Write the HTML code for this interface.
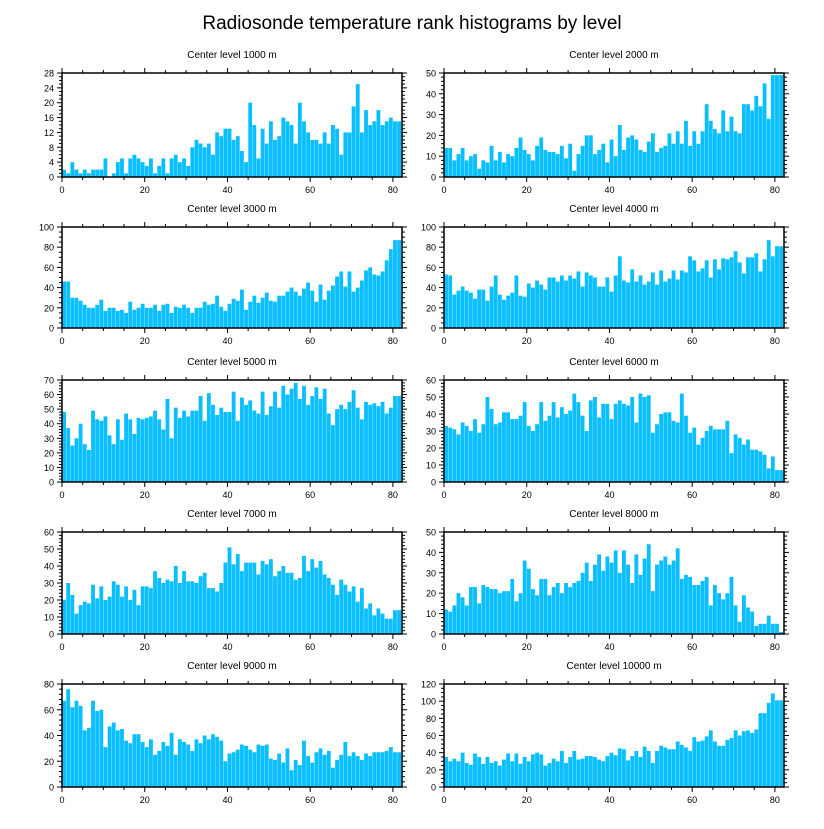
<!DOCTYPE html>
<html><head><meta charset="utf-8"><style>
body{margin:0;background:#fff}
svg text{font-family:"Liberation Sans",sans-serif;fill:#000}
</style></head><body>
<svg id="c" width="824" height="824" viewBox="0 0 824 824">
<text x="412" y="29" text-anchor="middle" font-size="19">Radiosonde temperature rank histograms by level</text>
</svg>
<script>
const levels=["1000","2000","3000","4000","5000","6000","7000","8000","9000","10000"];
const yMaxes=[28,50,100,100,70,60,60,50,80,120];
const yMajor=[4,10,20,20,10,10,10,10,20,20];
const yMinor=[1,2,5,5,2,2,2,2,4,5];
const xTicks=[0,20,40,60,80];
const v1000=[2,1,4,2,1,2,1,2,2,2,5,0,1,4,5,1,5,6,5,4,3,5,1,3,5,1,5,6,4,5,3,8,10,9,8,9,6,12,11,13,13,10,11,7,4,20,14,5,13,9,15,10,11,16,15,14,9,20,15,12,10,10,9,12,9,14,13,6,12,12,19,25,12,18,14,15,18,14,15,16,15,15];
const v2000=[14,14,8,11,14,8,10,11,4,8,7,15,8,12,7,11,10,14,19,13,11,8,15,19,13,12,12,11,15,9,16,3,11,15,20,20,11,13,16,7,18,10,25,13,19,20,18,13,12,17,21,12,14,15,21,16,22,16,27,15,22,16,22,35,27,23,21,32,22,29,22,21,35,35,32,39,34,45,28,49,49,49];
const v3000=[46,46,30,30,27,23,20,20,23,28,17,20,20,17,18,15,26,18,20,24,20,20,23,17,23,24,15,21,20,23,20,15,20,20,26,23,24,32,21,17,24,29,27,38,18,26,32,25,30,35,27,26,32,32,36,40,36,32,39,45,37,26,43,28,37,42,51,56,41,56,36,40,47,57,60,53,52,56,67,78,87,87];
const v4000=[53,52,33,37,41,37,35,29,38,38,27,41,52,33,28,32,35,52,32,31,44,40,47,43,38,50,50,46,52,47,52,49,56,41,55,52,50,41,41,50,36,52,71,47,45,58,46,52,43,46,55,43,57,46,49,57,48,57,55,71,67,56,59,67,50,68,58,69,68,70,76,65,54,70,70,74,56,68,87,71,81,81];
const v5000=[48,37,25,30,40,26,22,49,43,42,45,32,26,43,29,47,43,33,44,43,44,45,49,43,36,57,30,51,44,49,45,49,49,59,42,61,53,46,51,48,48,62,42,58,53,56,49,47,62,46,52,62,51,66,60,64,68,57,66,53,59,65,57,64,47,39,50,53,50,55,63,51,43,55,53,54,52,55,47,51,59,59];
const v6000=[33,32,31,28,35,33,30,37,29,34,50,43,34,35,41,41,37,37,39,47,33,30,34,47,36,39,47,38,44,40,42,52,47,39,30,48,50,38,46,46,37,46,48,46,45,50,35,52,50,51,29,34,40,41,41,36,35,52,39,29,32,22,26,30,33,31,31,31,36,17,28,26,22,25,19,19,18,16,8,15,7,7];
const v7000=[20,30,23,12,17,19,18,29,21,28,20,22,31,29,22,28,20,26,17,28,28,27,37,33,30,32,31,40,30,37,31,31,30,34,36,27,27,25,30,42,51,41,47,37,42,42,42,35,43,41,44,34,37,40,36,36,32,33,46,37,44,39,43,35,33,29,23,32,29,25,28,19,27,15,18,11,15,12,9,9,14,14];
const v8000=[12,11,14,20,18,14,23,23,15,24,23,22,22,20,21,21,27,16,20,36,32,22,19,27,27,19,23,25,20,25,23,25,26,30,35,26,34,39,31,38,35,41,30,41,34,25,39,29,37,44,21,34,36,38,34,36,42,27,29,28,24,24,26,28,14,24,20,17,20,28,14,6,19,13,11,4,5,5,9,5,5,1];
const v9000=[67,76,62,67,63,44,46,67,59,60,31,47,50,44,45,36,34,41,41,35,31,37,25,28,35,32,42,25,37,35,33,28,37,34,40,37,41,39,36,20,26,27,29,33,32,29,27,33,32,33,22,21,26,19,30,13,21,17,36,24,19,27,30,25,28,15,21,25,35,24,27,24,21,26,24,27,27,27,28,31,27,27];
const v10000=[35,30,33,30,40,28,26,39,35,27,35,28,30,25,32,39,30,39,27,35,30,38,40,38,25,28,33,30,42,28,35,42,32,33,36,36,35,32,30,36,40,37,45,44,31,36,42,35,47,42,28,42,48,46,44,44,53,49,46,42,58,53,54,59,66,53,48,48,55,57,66,60,65,66,63,67,86,86,98,109,101,101];
const series=[v1000,v2000,v3000,v4000,v5000,v6000,v7000,v8000,v9000,v10000];
const X_MAX=82.2;
const rowsTop=[73,227,380,532,684], rowsBot=[177,328,482,634,787];
const colL=[62,444], colR=[402,784];
const NS="http://www.w3.org/2000/svg";
const svg=document.getElementById('c');
function mk(tag,attrs,parent){const e=document.createElementNS(NS,tag);for(const k in attrs)e.setAttribute(k,attrs[k]);(parent||svg).appendChild(e);return e;}
series.forEach((vals,p)=>{
  const r=Math.floor(p/2), c=p%2;
  const x0=colL[c],x1=colR[c],y0=rowsTop[r],y1=rowsBot[r];
  const g=mk('g',{});
  
  
  const xs=v=>x0+(v/X_MAX)*(x1-x0);
  const ys=v=>y1-(v/yMaxes[p])*(y1-y0);
  const t=mk('text',{x:(x0+x1)/2,y:y0-15,'text-anchor':'middle','font-size':10},g);
  t.textContent='Center level '+levels[p]+' m';
  
  
  vals.forEach((v,i)=>{
    const b=mk('rect',{x:xs(i)+0.15,y:ys(v),width:Math.max(0,xs(i+1)-xs(i)-0.3),height:y1-ys(v),fill:'#0abfff'},g);
    
    
  });
  const f=mk('rect',{x:x0,y:y0,width:x1-x0,height:y1-y0,fill:'none',stroke:'#000','stroke-width':1.5},g);
  
  
  for(let v=0;v<=80;v+=5){
    const L=(v%20===0)?5:3;
    const X=xs(v);
    mk('line',{x1:X,x2:X,y1:y1,y2:y1+L,stroke:'#000','stroke-width':1},g);
    mk('line',{x1:X,x2:X,y1:y0,y2:y0-L,stroke:'#000','stroke-width':1},g);
  }
  xTicks.forEach(v=>{
    const tl=mk('text',{x:xs(v),y:y1+16,'text-anchor':'middle','font-size':9},g);
    tl.textContent=v;
    
    
  });
  for(let v=0;v<=yMaxes[p]+1e-9;v+=yMinor[p]){
    const maj=Math.abs(v/yMajor[p]-Math.round(v/yMajor[p]))<1e-6;
    const L=maj?5:3, Y=ys(v);
    mk('line',{x1:x0,x2:x0-L,y1:Y,y2:Y,stroke:'#000','stroke-width':1},g);
    mk('line',{x1:x1,x2:x1+L,y1:Y,y2:Y,stroke:'#000','stroke-width':1},g);
    if(maj){
      const yl=mk('text',{x:x0-8,y:Y+3.5,'text-anchor':'end','font-size':9},g);
      yl.textContent=Math.round(v);
      
      
    }
  }
});
</script>
</body></html>
